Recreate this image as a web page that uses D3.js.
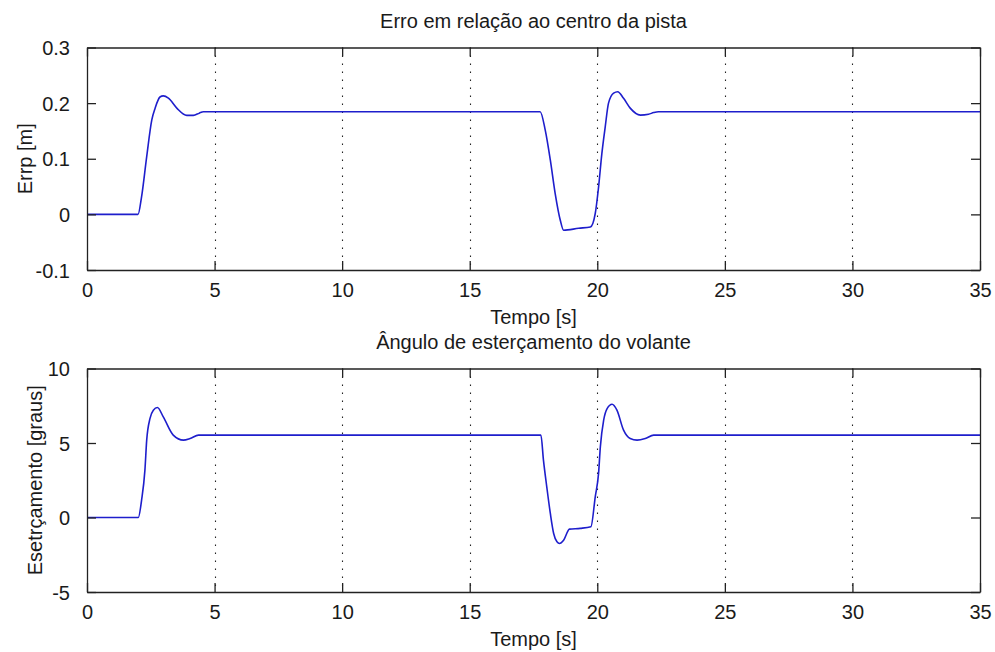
<!DOCTYPE html>
<html>
<head>
<meta charset="utf-8">
<script src="https://cdn.jsdelivr.net/npm/d3@7"></script>
<style>
  html, body { margin: 0; padding: 0; background: #fff; }
  svg { display: block; }
  text { font-family: "Liberation Sans", Arial, sans-serif; font-size: 20px; fill: #1a1a1a; }
</style>
</head>
<body>
<svg id="chart" width="995" height="652"></svg>
<script>
// Time samples (s) and lateral error (m) of the vehicle relative to the lane centre
const timeErr = [0, 2.0, 2.14, 2.34, 2.54, 2.67, 2.86, 2.99, 3.19, 3.52, 3.91, 4.17, 4.4, 4.56,
  17.76, 17.96, 18.16, 18.35, 18.55, 18.68, 19.27, 19.73, 19.92, 20.05, 20.18, 20.31, 20.44,
  20.64, 20.8, 21.03, 21.29, 21.69, 22.01, 22.21, 22.4, 35];
const errValues = [0, 0, 0.032, 0.104, 0.17, 0.191, 0.211, 0.213, 0.209, 0.191, 0.178, 0.178, 0.182, 0.1845,
  0.1845, 0.1515, 0.0975, 0.0375, -0.0105, -0.0285, -0.025, -0.0226, 0.0016, 0.049, 0.1096, 0.157, 0.2,
  0.218, 0.2205, 0.2086, 0.191, 0.1785, 0.18, 0.183, 0.1845, 0.1845];

// Time samples (s) and steering-wheel angle (degrees)
const timeSteer = [0, 2.01, 2.14, 2.27, 2.34, 2.47, 2.6, 2.76, 2.99, 3.38, 3.78, 4.04, 4.37,
  17.79, 17.89, 18.02, 18.16, 18.29, 18.42, 18.52, 18.68, 18.91, 19.33, 19.75, 19.92, 20.05,
  20.12, 20.25, 20.39, 20.58, 20.77, 21.03, 21.29, 21.56, 21.88, 22.21, 35];
const steerValues = [0, 0, 1.17, 3.18, 5.19, 6.65, 7.2, 7.38, 6.75, 5.53, 5.19, 5.3, 5.53,
  5.53, 3.85, 2.06, 0.27, -1.07, -1.63, -1.74, -1.52, -0.78, -0.73, -0.62, 1.39, 2.96,
  4.74, 6.53, 7.32, 7.6, 7.2, 5.86, 5.3, 5.19, 5.3, 5.53, 5.53];

// Axis tick values
const xTicks = [0, 5, 10, 15, 20, 25, 30, 35];
const errTicks = [-0.1, 0, 0.1, 0.2, 0.3];
const steerTicks = [-5, 0, 5, 10];

const svg = d3.select("#chart");
const left = 87, right = 980, tickLen = 9;

// tick labels use a plain hyphen for negatives
const hyphen = f => d => f(d).replace("\u2212", "-");

function panel(cfg) {
  const g = svg.append("g");
  const x = d3.scaleLinear().domain([0, 35]).range([left, right]);
  const y = d3.scaleLinear().domain(cfg.yDomain).range([cfg.bottom, cfg.top]);

  // dotted vertical grid
  g.selectAll("line.grid").data(xTicks.filter(t => t > 0 && t < 35)).join("line")
    .attr("class", "grid")
    .attr("x1", d => Math.round(x(d)) + 0.5).attr("x2", d => Math.round(x(d)) + 0.5)
    .attr("y1", cfg.top).attr("y2", cfg.bottom)
    .attr("stroke", "#222").attr("stroke-width", 1.1)
    .attr("stroke-dasharray", "1.4 6.6");

  // data line
  const line = d3.line().x((d, i) => x(cfg.t[i])).y(d => y(d)).curve(d3.curveMonotoneX);
  g.append("path").datum(cfg.v)
    .attr("d", line).attr("fill", "none")
    .attr("stroke", "#1e1ecc").attr("stroke-width", 1.6);

  // axes: bottom/left with labels, top/right mirrored ticks only
  const axB = d3.axisBottom(x).tickValues(xTicks).tickSizeInner(-tickLen).tickSizeOuter(0).tickPadding(13);
  const axT = d3.axisTop(x).tickValues(xTicks).tickSizeInner(-tickLen).tickSizeOuter(0).tickFormat("");
  const axL = d3.axisLeft(y).tickValues(cfg.yTicks).tickSizeInner(-tickLen).tickSizeOuter(0).tickPadding(17)
    .tickFormat(cfg.fmt);
  const axR = d3.axisRight(y).tickValues(cfg.yTicks).tickSizeInner(-tickLen).tickSizeOuter(0).tickFormat("");

  const gb = g.append("g").attr("transform", `translate(0,${cfg.bottom})`).call(axB);
  const gt = g.append("g").attr("transform", `translate(0,${cfg.top})`).call(axT);
  const gl = g.append("g").attr("transform", `translate(${left},0)`).call(axL);
  const gr = g.append("g").attr("transform", `translate(${right},0)`).call(axR);
  [gb, gt, gl, gr].forEach(a => {
    a.selectAll("path.domain, .tick line").attr("stroke", "#222").attr("stroke-width", 1.3);
    a.selectAll("text").attr("font-size", 20).attr("fill", "#1a1a1a")
      .attr("font-family", '"Liberation Sans", Arial, sans-serif');
  });
  gb.selectAll(".tick text").attr("dy", "0.71em");
  gl.selectAll(".tick text").attr("dy", "0.35em");

  // titles
  g.append("text").attr("x", (left + right) / 2).attr("y", cfg.top - 20)
    .attr("text-anchor", "middle").text(cfg.title);
  g.append("text").attr("x", (left + right) / 2).attr("y", cfg.bottom + 54)
    .attr("text-anchor", "middle").text("Tempo [s]");
  g.append("text")
    .attr("transform", `translate(${cfg.ylabelX},${(cfg.top + cfg.bottom) / 2}) rotate(-90)`)
    .attr("text-anchor", "middle").text(cfg.ylabel);
}

panel({
  top: 47.5, bottom: 270, yDomain: [-0.1, 0.3], yTicks: errTicks,
  fmt: hyphen(d => d === 0 ? "0" : d3.format(".1f")(d)),
  t: timeErr, v: errValues,
  title: "Erro em relação ao centro da pista", ylabel: "Errp [m]", ylabelX: 31.5
});

panel({
  top: 368.5, bottom: 592, yDomain: [-5, 10], yTicks: steerTicks,
  fmt: hyphen(d3.format("d")),
  t: timeSteer, v: steerValues,
  title: "Ângulo de esterçamento do volante", ylabel: "Esetrçamento [graus]", ylabelX: 41.5
});
</script>
</body>
</html>
